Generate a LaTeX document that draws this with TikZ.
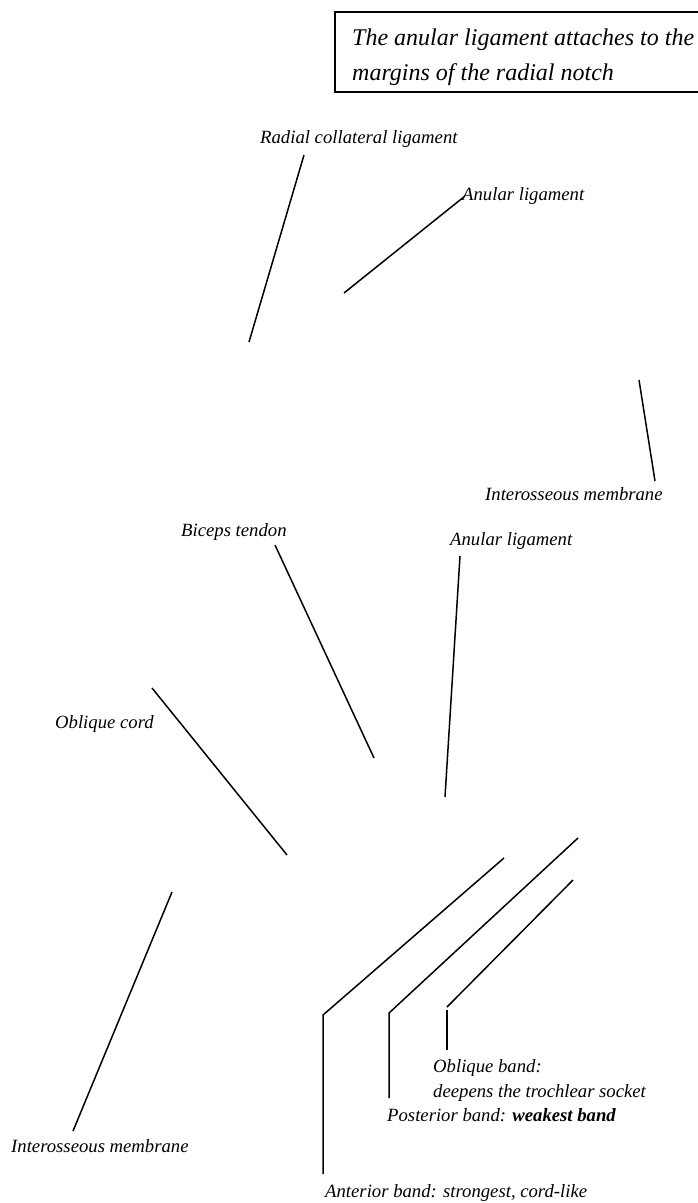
\documentclass[tikz,border=0pt]{standalone}
\usepackage{fontspec}
\setmainfont{Liberation Serif}
\begin{document}
\begin{tikzpicture}[x=1pt,y=-1pt,
  lbl/.style={anchor=base west,inner sep=0pt,font=\fontsize{18.7}{22}\selectfont\itshape},
  boxtxt/.style={anchor=base west,inner sep=0pt,font=\fontsize{24}{28}\selectfont\itshape},
  leader/.style={line width=1.5pt,line cap=butt}]
\useasboundingbox (0,0) rectangle (698,1203);
\draw[line width=1.5pt] (705,12) -- (335,12) -- (335,92) -- (705,92);
\node[boxtxt] (b1) at (352,45) {The anular ligament attaches to the};
\node[boxtxt] (b2) at (352,80) {margins of the radial notch};

\node[lbl] (rcl) at (260,143) {Radial collateral ligament};
\node[lbl] (al1) at (462,200) {Anular ligament};
\node[lbl] (im1) at (485,500) {Interosseous membrane};
\node[lbl] (al2) at (450,545) {Anular ligament};
\node[lbl] (bt) at (181,536) {Biceps tendon};
\node[lbl] (oc) at (55,728) {Oblique cord};
\node[lbl] (im2) at (11,1152) {Interosseous membrane};
\node[lbl] (ob1) at (433,1072) {Oblique band:};
\node[lbl] (ob2) at (433,1097) {deepens the trochlear socket};
\node[lbl] (pb) at (387,1121) {Posterior band: \textbf{weakest band}};
\node[lbl] (ab) at (325,1197) {Anterior band: strongest, cord-like};

\coordinate (rclA) at (304,155); \coordinate (rclB) at (249,342);
\coordinate (al1A) at (465,196); \coordinate (al1B) at (344,293);
\coordinate (im1A) at (655,481); \coordinate (im1B) at (639,380);
\coordinate (al2A) at (460,556); \coordinate (al2B) at (445,797);
\coordinate (btA) at (275,545); \coordinate (btB) at (374,758);
\coordinate (ocA) at (152,688); \coordinate (ocB) at (287,855);
\coordinate (im2A) at (73,1131); \coordinate (im2B) at (172,892);
\coordinate (abA) at (504,858); \coordinate (abK) at (323,1015); \coordinate (abB) at (323,1174);
\coordinate (pbA) at (578,838); \coordinate (pbK) at (389,1013); \coordinate (pbB) at (389,1098);
\coordinate (obA) at (573,880); \coordinate (obK) at (447,1007);
\coordinate (obV1) at (447,1010); \coordinate (obV2) at (447,1050);

\draw[leader] (rclA) -- (rclB);
\draw[leader] (al1A) -- (al1B);
\draw[leader] (im1A) -- (im1B);
\draw[leader] (al2A) -- (al2B);
\draw[leader] (btA) -- (btB);
\draw[leader] (ocA) -- (ocB);
\draw[leader] (im2A) -- (im2B);
\draw[leader] (abA) -- (abK) -- (abB);
\draw[leader] (pbA) -- (pbK) -- (pbB);
\draw[leader] (obA) -- (obK);
\draw[leader] (obV1) -- (obV2);
\end{tikzpicture}
\end{document}
